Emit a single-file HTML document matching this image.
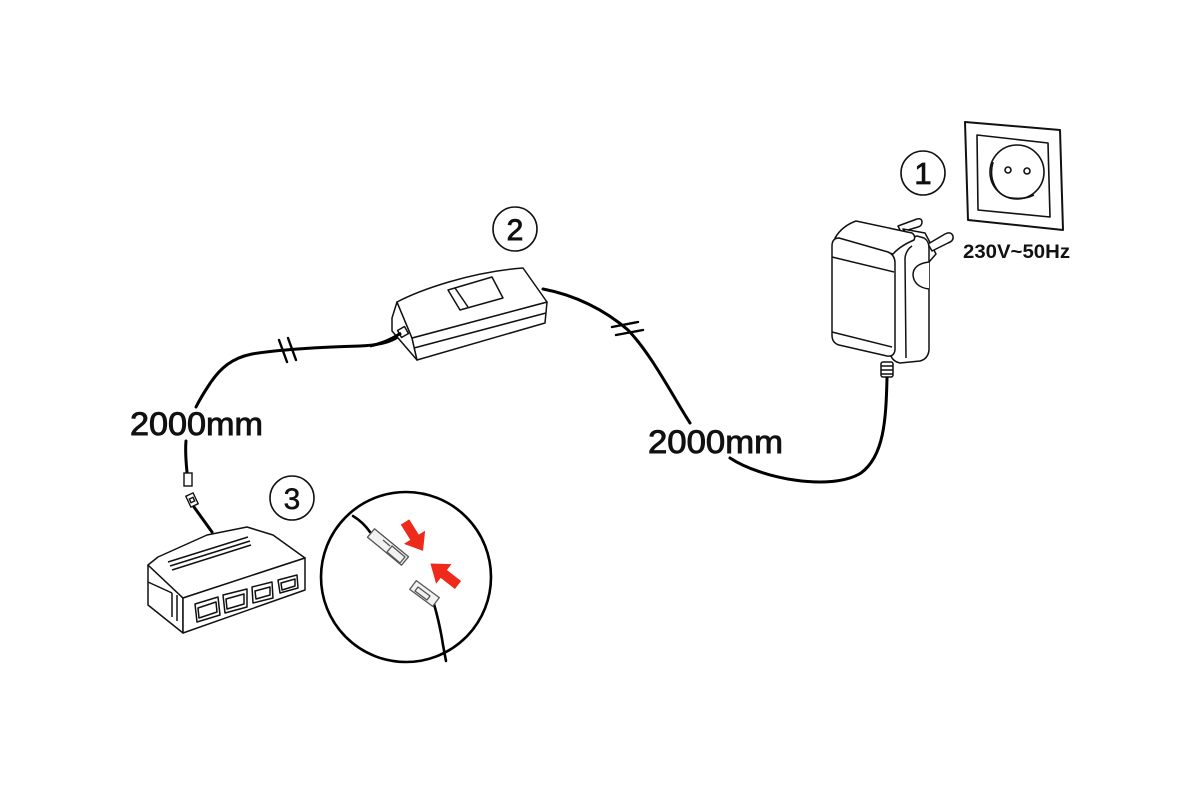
<!DOCTYPE html>
<html><head><meta charset="utf-8"><style>
html,body{margin:0;padding:0;background:#fff;}
svg{display:block;}
text{font-family:"Liberation Sans",sans-serif;}
</style></head><body>
<svg width="1200" height="800" viewBox="0 0 1200 800" xmlns="http://www.w3.org/2000/svg">
<rect width="1200" height="800" fill="#fff"/>

<!-- ===== Socket ===== -->
<g fill="none" stroke="#111" stroke-width="1.6" stroke-linejoin="round">
  <path d="M965,122 L1060,130 L1063,230 L968,220 Z" stroke-width="2"/>
  <path d="M977,135 L1048,143 L1050,217 L978,210 Z"/>
  <circle cx="1017" cy="172" r="27"/>
  <path d="M993,162 C988,180 997,197 1012,198 C1020,199 1028,198 1034,195"/>
  <circle cx="1008" cy="170" r="3"/>
  <circle cx="1027" cy="171" r="3"/>
</g>
<text x="963" y="258" font-size="19" font-weight="bold" fill="#111" textLength="107" lengthAdjust="spacingAndGlyphs">230V~50Hz</text>

<!-- circled 1 -->
<circle cx="923" cy="173" r="22" fill="none" stroke="#111" stroke-width="1.6"/>
<text x="923" y="184" font-size="31" text-anchor="middle" fill="#111" stroke="#111" stroke-width="0.8">1</text>

<!-- ===== Adapter ===== -->
<g fill="#fff" stroke="#111" stroke-width="1.5" stroke-linejoin="round">
  <!-- pin 1 -->
  <path d="M898,226 L917,219 Q922,218 922,222 Q922,226 918,227 L901,232 Z"/>
  <!-- plug block -->
  <path d="M903,229 L925,233 L936,254 L929,262 L916,245 Z"/>
  <!-- pin 2 -->
  <path d="M928,244 L945,234 Q951,231 953,236 Q954,241 948,243 L932,251 Z"/>
  <!-- right side face -->
  <path d="M888,253 Q902,240 917,236 L924,238 Q929,241 929,248 L929,350 Q928,359 920,361 L900,363 Q891,361 890,352 Z"/>
  <path d="M905,258 Q906,250 912,246" fill="none"/>
  <line x1="905" y1="258" x2="906" y2="358" />
  <!-- top face -->
  <path d="M835,238 Q842,226 856,221 L912,233 Q916,236 914,240 Q900,246 893,254 Z"/>
  <!-- front face -->
  <path d="M839,238 L888,252 Q895,255 895,263 L895,350 Q894,357 887,356 L839,345 Q832,343 832,335 L832,246 Q832,238 839,238 Z"/>
  <line x1="832" y1="257" x2="894" y2="272"/>
  <line x1="832" y1="332" x2="892" y2="347"/>
  <!-- side button -->
  <path d="M929,262 Q913,264 913,275 Q914,287 929,289" fill="#fff"/>
  <!-- strain relief -->
  <rect x="881" y="362" width="12" height="15" rx="2"/>
  <line x1="881" y1="366" x2="893" y2="366"/>
  <line x1="881" y1="370" x2="893" y2="370"/>
  <line x1="881" y1="374" x2="893" y2="374"/>
</g>

<!-- ===== Cables ===== -->
<g fill="none" stroke="#000" stroke-width="3" stroke-linecap="round">
  <path d="M543,289 C575,295 605,310 628,330 C652,355 672,395 690,423"/>
  <path d="M730,458 C760,478 830,492 861,473 C884,456 886,420 887,378"/>
  <path d="M403,333 C395,340 385,345 360,346 C320,347 275,350 252,354 C232,358 220,368 209,385 C203,394 199,401 196,407"/>
  <path d="M186,441 C185,452 186,462 187,472"/>
  <path d="M194,507 L212,532"/>
</g>
<!-- hash marks -->
<g stroke="#000" stroke-width="2.4" stroke-linecap="round">
  <line x1="612" y1="327" x2="638" y2="322"/>
  <line x1="616" y1="335" x2="643" y2="330"/>
  <line x1="279" y1="340" x2="287" y2="362"/>
  <line x1="288" y1="338" x2="296" y2="360"/>
</g>

<!-- small connectors on left cable -->
<g fill="#fff" stroke="#111" stroke-width="1.4">
  <rect x="184" y="473" width="8" height="13"/>
  <rect x="188" y="494" width="8" height="12" transform="rotate(-25 192 500)"/>
  <rect x="190" y="498" width="4" height="4" transform="rotate(-25 192 500)"/>
</g>

<!-- labels -->
<text x="130" y="435" font-size="32" fill="#111" stroke="#111" stroke-width="0.9" textLength="133" lengthAdjust="spacingAndGlyphs">2000mm</text>
<text x="648" y="453" font-size="32" fill="#111" stroke="#111" stroke-width="0.9" textLength="135" lengthAdjust="spacingAndGlyphs">2000mm</text>

<!-- ===== Switch ===== -->
<g fill="#fff" stroke="#111" stroke-width="1.5" stroke-linejoin="round">
  <path d="M397,302 L392,318 L392,331 L417,360 L412,338 Z"/>
  <path d="M412,338 L547,302 L545,323 L417,360 Z"/>
  <line x1="414" y1="348" x2="546" y2="313"/>
  <path d="M397,302 C420,290 470,272 523,268 L547,302 L412,338 Z"/>
  <path d="M448,290 L492,277 L503,298 L460,310 Z"/>
  <line x1="455" y1="288" x2="468" y2="307"/>
  <rect x="399" y="328" width="8" height="8" transform="rotate(-30 403 332)"/>
</g>
<path d="M370,346 C385,343 395,337 401,333" fill="none" stroke="#000" stroke-width="3"/>

<!-- circled 2 -->
<circle cx="515" cy="229" r="22" fill="none" stroke="#111" stroke-width="1.6"/>
<text x="515" y="240" font-size="30" text-anchor="middle" fill="#111" stroke="#111" stroke-width="0.9">2</text>

<!-- ===== Hub ===== -->
<g fill="#fff" stroke="#111" stroke-width="1.5" stroke-linejoin="round">
  <path d="M148,565 L183,598 L183,633 L148,605 Z"/>
  <path d="M148,582 L172,593" fill="none"/>
  <line x1="172" y1="593" x2="172" y2="617"/>
  <line x1="177" y1="595" x2="177" y2="621"/>
  <path d="M148,565 L158,557 L207,535 L247,527 L273,535 L305,558 L183,598 Z"/>
  <path d="M183,598 L305,558 L305,590 L183,633 Z"/>
  <line x1="168" y1="562" x2="248" y2="537"/>
  <line x1="170" y1="566" x2="250" y2="541"/>
  <line x1="172" y1="570" x2="251" y2="545"/>
  <path d="M195,604 L218,597 L220,615 L197,622 Z"/>
  <path d="M198,608 L216,602 L217,612 L199,618 Z"/>
  <path d="M223,595 L247,589 L247,607 L225,613 Z"/>
  <path d="M226,599 L244,594 L244,604 L227,609 Z"/>
  <path d="M252,587 L272,582 L273,598 L253,603 Z"/>
  <path d="M255,591 L270,587 L270,595 L256,599 Z"/>
  <path d="M278,580 L297,575 L298,588 L280,593 Z"/>
  <path d="M281,583 L295,579 L295,586 L282,590 Z"/>
</g>

<!-- circled 3 -->
<circle cx="292" cy="498" r="22" fill="none" stroke="#111" stroke-width="1.6"/>
<text x="292" y="509" font-size="30" text-anchor="middle" fill="#111" stroke="#111" stroke-width="0.5">3</text>

<!-- ===== Detail circle ===== -->
<circle cx="406" cy="577" r="85" fill="#fff" stroke="#000" stroke-width="2.6"/>
<g fill="none" stroke="#000" stroke-width="2.6" stroke-linecap="round">
  <path d="M353,516 Q363,522 370,532"/>
  <path d="M434,604 Q440,625 443,645 L446,661"/>
</g>
<g fill="#f2f2f2" stroke="#555" stroke-width="1.3" stroke-linejoin="round">
  <path d="M374.5,528.8 L408.5,556.8 L401.5,565.2 L367.5,537.2 Z"/>
  <path d="M392,546 L405,557 L400,563 L387,552 Z"/>
  <line x1="383" y1="540" x2="390" y2="546"/>
  <path d="M416.3,580.6 L439.3,597.6 L432.7,606.4 L409.7,589.4 Z"/>
  <path d="M418,587 L430,596 L427,600 L415,591 Z"/>
</g>
<g fill="#ee2a1b">
  <polygon points="0,-5 18,-5 18,-12.5 34,0 18,12.5 18,5 0,5" transform="translate(405,522) rotate(58)"/>
  <polygon points="0,-5 18,-5 18,-12.5 35,0 18,12.5 18,5 0,5" transform="translate(458,585) rotate(218)"/>
</g>
</svg>
</body></html>
